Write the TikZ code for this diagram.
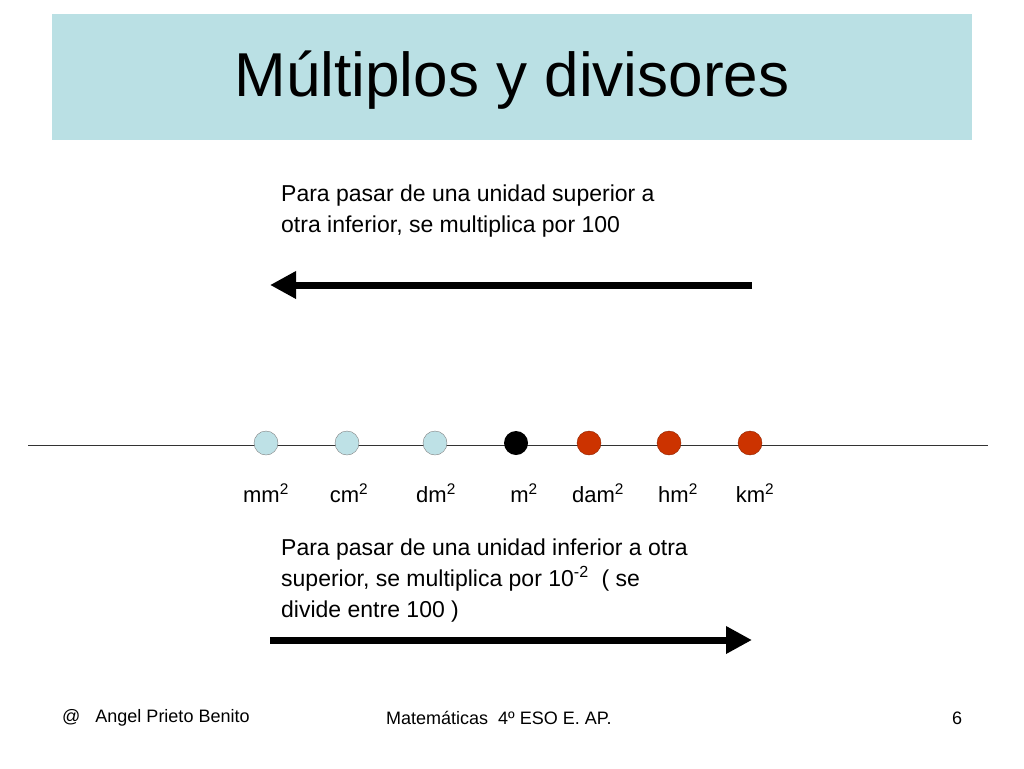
\documentclass[tikz,border=0pt]{standalone}
\usepackage{fontspec}
\setmainfont{Liberation Sans}
\usetikzlibrary{arrows.meta}
\definecolor{titlebg}{RGB}{186,224,228}
\definecolor{lb}{RGB}{190,225,230}
\definecolor{rd}{RGB}{204,51,0}
\tikzset{
 txt/.style={anchor=west,font=\fontsize{23}{31}\selectfont,align=left,inner sep=0pt},
 unit/.style={font=\fontsize{22}{26}\selectfont,inner sep=0pt},
 foot/.style={font=\fontsize{18}{22}\selectfont,inner sep=0pt},
 dotL/.style={circle,minimum size=24pt,inner sep=0pt,fill=lb,draw=gray},
 dotB/.style={circle,minimum size=24pt,inner sep=0pt,fill=black},
 dotR/.style={circle,minimum size=24pt,inner sep=0pt,fill=rd,draw=rd!70!black},
 bigarrow/.style={line width=7pt,-{Triangle[length=26pt,width=26pt]}}
}
\begin{document}
\begin{tikzpicture}[x=1pt,y=-1pt]
\useasboundingbox (0,0) rectangle (1024,768);
\fill[titlebg] (52,14) rectangle (972,140);
\node[font=\fontsize{62}{70}\selectfont] (title) at (512,80) {Múltiplos y divisores};
\node[txt] (t1) at (281,211) {Para pasar de una unidad superior a\\otra inferior, se multiplica por 100};
\coordinate (a1s) at (752,285); \coordinate (a1e) at (270,285);
\draw[bigarrow] (a1s) -- (a1e);
\coordinate (l1) at (28,445); \coordinate (l2) at (988,445);
\draw[line width=1pt,black!80] (l1) -- (l2);
\node[dotL] (c1) at (266,443) {};
\node[dotL] (c2) at (347,443) {};
\node[dotL] (c3) at (435,443) {};
\node[dotB] (c4) at (516,443) {};
\node[dotR] (c5) at (589,443) {};
\node[dotR] (c6) at (669,443) {};
\node[dotR] (c7) at (750,443) {};
\node[unit] (u1) at (266,493) {mm\textsuperscript{2}};
\node[unit] (u2) at (349,493) {cm\textsuperscript{2}};
\node[unit] (u3) at (436,493) {dm\textsuperscript{2}};
\node[unit] (u4) at (524,493) {m\textsuperscript{2}};
\node[unit] (u5) at (598,493) {dam\textsuperscript{2}};
\node[unit] (u6) at (678,493) {hm\textsuperscript{2}};
\node[unit] (u7) at (755,493) {km\textsuperscript{2}};
\node[txt] (t2) at (281,581) {Para pasar de una unidad inferior a otra\\superior, se multiplica por 10\textsuperscript{-2}\ \ ( se\\divide entre 100 )};
\coordinate (a2s) at (270,640); \coordinate (a2e) at (752,640);
\draw[bigarrow] (a2s) -- (a2e);
\node[foot,anchor=west] (f1) at (62,718) {@\ \ \ Angel Prieto Benito};
\node[foot,anchor=west] (f2) at (386,718) {Matemáticas\ \ 4º ESO E. AP.};
\node[foot,anchor=west] (f3) at (952,718) {6};
\end{tikzpicture}
\end{document}
